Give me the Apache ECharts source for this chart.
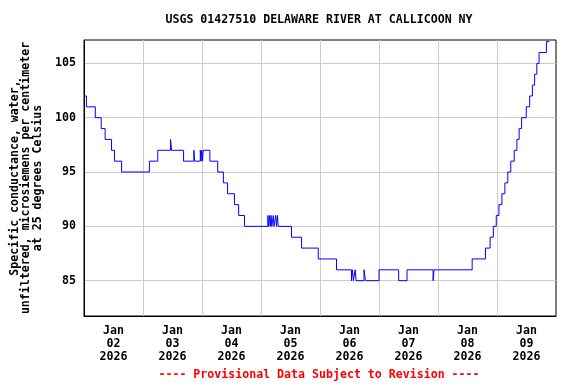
<!DOCTYPE html>
<html>
<head>
<meta charset="utf-8">
<script src="https://cdn.jsdelivr.net/npm/echarts@6/dist/echarts.min.js"></script>
<style>
html,body{margin:0;padding:0;background:#fff;}
#chart{width:576px;height:384px;}
</style>
</head>
<body>
<div id="chart"></div>
<script>
// Hours since Jan 02 2026 00:00 at which the value changes
const changeHours = [0,1,4.6,7,8.6,11.2,12.4,15.3,26.6,30,35.2,35.6,40.5,44.7,45,47.3,47.6,47.9,48.2,48.5,51.2,54.4,56.7,58.4,61.2,62.9,65.3,
  74.8,75.1,75.5,75.8,76.1,76.4,77.0,77.3,78.0,78.3,78.7,79.0,
  84.4,88.5,95.3,102.7,108.8,109.2,109.6,110.3,110.7,113.9,114.5,120,128,131.4,142,142.4,
  157.9,163.3,165.2,166.5,167.7,168.8,170.0,171.2,172.4,173.6,175,176.1,177,178,179.9,181.3,182.4,183.3,184.2,185.1,188.1,189.3];
const conductance = [102,101,100,99,98,97,96,95,96,97,98,97,96,97,96,97,96,97,96,97,96,95,94,93,92,91,90,
  91,90,91,90,91,90,91,90,91,90,91,90,
  89,88,87,86,85,86,85,86,85,86,85,86,85,86,85,86,
  87,88,89,90,91,92,93,94,95,96,97,98,99,100,101,102,103,104,105,106,107,107];
const dayLabels = ['Jan\n02\n2026','Jan\n03\n2026','Jan\n04\n2026','Jan\n05\n2026','Jan\n06\n2026','Jan\n07\n2026','Jan\n08\n2026','Jan\n09\n2026'];
const dayLabelHours = [12,36,60,84,108,132,156,180];
const yTicks = [85,90,95,100,105];

const font = '"DejaVu Sans Mono", "Liberation Mono", monospace';
const chart = echarts.init(document.getElementById('chart'), null, {renderer:'canvas'});
const seriesData = changeHours.map((h,i)=>[h, conductance[i]]);
chart.setOption({
  animation:false,
  backgroundColor:'#fff',
  title:{
    text:'USGS 01427510 DELAWARE RIVER AT CALLICOON NY',
    left:314, top:9, textAlign:'center',
    textStyle:{fontFamily:font, fontWeight:'bold', fontSize:11.6, color:'#000'}
  },
  graphic:[{
    type:'text', x:319, y:369, z:10,
    style:{text:'---- Provisional Data Subject to Revision ----', fill:'#ff0000', textAlign:'center',
      font:'bold 11.6px "DejaVu Sans Mono", monospace'}
  }],
  grid:{left:84, right:20, top:40, bottom:68, show:true, borderColor:'#000', borderWidth:1, backgroundColor:'transparent'},
  xAxis:{
    type:'value', min:0, max:192, interval:24,
    axisLine:{show:true, lineStyle:{color:'#000', width:1}}, axisTick:{show:false},
    splitLine:{show:true, showMinLine:false, showMaxLine:false, lineStyle:{color:'#cccccc', width:1}},
    axisLabel:{
      customValues: dayLabelHours,
      formatter:(v)=>dayLabels[dayLabelHours.indexOf(v)] || '',
      fontFamily:font, fontWeight:'bold', fontSize:11.6, color:'#000', lineHeight:13, margin:8
    }
  },
  yAxis:{
    type:'value', min:81.75, max:107.15,
    name:'Specific conductance, water,\nunfiltered, microsiemens per centimeter\nat 25 degrees Celsius',
    nameLocation:'middle', nameRotate:90, nameGap:40,
    nameTextStyle:{fontFamily:font, fontWeight:'bold', fontSize:11.6, color:'#000', lineHeight:11.8, align:'center'},
    axisLine:{show:true, lineStyle:{color:'#000', width:1}},
    axisTick:{show:false, customValues:yTicks},
    splitLine:{show:true, lineStyle:{color:'#cccccc', width:1}},
    axisLabel:{customValues:yTicks, fontFamily:font, fontWeight:'bold', fontSize:11.6, color:'#000', margin:8}
  },
  series:[{
    type:'line', data:seriesData, step:'end', showSymbol:false, symbol:'none',
    lineStyle:{color:'#0000ff', width:1}, clip:true
  }]
});
</script>
</body>
</html>
